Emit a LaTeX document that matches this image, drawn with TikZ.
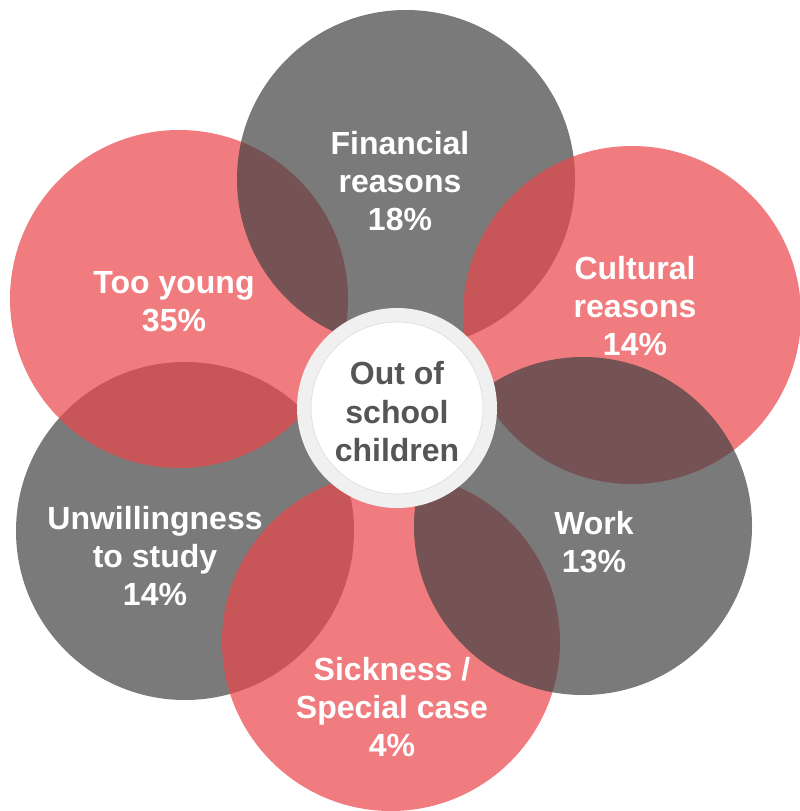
\documentclass[tikz,border=0pt]{standalone}
\usepackage{fontspec}
\setmainfont{Liberation Sans}
\usetikzlibrary{arrows}
\definecolor{eaeaea}{rgb}{0.9176,0.2706,0.2824}
\definecolor{uuuuuu}{rgb}{0.2549,0.2549,0.2549}
\definecolor{wwwwww}{rgb}{0.3333,0.3333,0.3333}
\definecolor{fofofo}{rgb}{0.9412,0.9412,0.9412}
\definecolor{dcdcdc}{rgb}{0.8627,0.8627,0.8627}

\begin{document}
\begin{tikzpicture}[line cap=round,line join=round,x=1pt,y=-1pt,
  petal/.style={fill opacity=0.7},
  lbl/.style={text=white,align=center,inner sep=0pt,font=\bfseries\fontsize{32}{38}\selectfont},
  hub/.style={text=wwwwww,align=center,inner sep=0pt,font=\bfseries\fontsize{32}{38.5}\selectfont}]
\useasboundingbox (0,0) rectangle (800,811);
\clip (0,0) rectangle (800,811);
\fill [petal,color=uuuuuu] (185,531) circle (169pt);
\fill [petal,color=eaeaea] (391,642) circle (169pt);
\fill [petal,color=eaeaea] (179,299) circle (169pt);
\fill [petal,color=uuuuuu] (406,179) circle (169pt);
\fill [petal,color=eaeaea] (632,315) circle (169pt);
\fill [petal,color=uuuuuu] (583,526) circle (169pt);
\fill [color=fofofo] (397,408) circle (100pt);
\draw [fill=white,draw=dcdcdc,line width=0.6pt] (397,408) circle (86pt);
\node [lbl] (fin) at (400,181) {Financial\\reasons\\18\%};
\node [lbl] (young) at (174,302) {Too young\\35\%};
\node [lbl] (cult) at (635,306) {Cultural\\reasons\\14\%};
\node [lbl] (work) at (594,542) {Work\\13\%};
\node [lbl] (sick) at (392,707) {Sickness /\\Special case\\4\%};
\node [lbl] (unw) at (155,556) {Unwillingness\\to study\\14\%};
\node [hub] (kids) at (397,412) {Out of\\school\\children};
\end{tikzpicture}
\end{document}
